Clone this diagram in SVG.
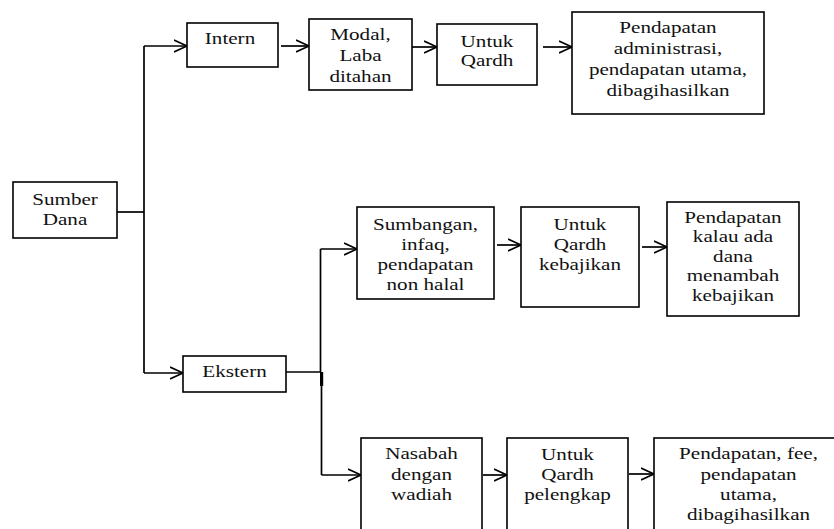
<svg xmlns="http://www.w3.org/2000/svg" width="834" height="529" viewBox="0 0 834 529">
<style>
.box{fill:#fff;stroke:#000;stroke-width:1.6}
.lbl{font-family:"Liberation Serif","Times New Roman",serif;font-size:16.5px;fill:#111;text-anchor:middle}
.ln{fill:none;stroke:#000;stroke-width:1.7}
</style>
<defs>
<marker id="arr" markerUnits="userSpaceOnUse" markerWidth="16" markerHeight="14" refX="13" refY="6" orient="auto" viewBox="0 0 16 12">
<path d="M0,0 L13,6 L0,12" fill="none" stroke="#000" stroke-width="1.6"/>
</marker>
</defs>
<rect width="834" height="529" fill="#fff"/>
<g id="connectors">
<path class="ln" d="M117,212 H144"/>
<path class="ln" d="M144,46 V373"/>
<path class="ln" d="M144,46 H187" marker-end="url(#arr)"/>
<path class="ln" d="M281,46 H309" marker-end="url(#arr)"/>
<path class="ln" d="M412,47 H437" marker-end="url(#arr)"/>
<path class="ln" d="M543,47 H572" marker-end="url(#arr)"/>
<path class="ln" d="M144,373 H183" marker-end="url(#arr)"/>
<path class="ln" d="M286,372 H321"/>
<path class="ln" d="M320.5,249 V372"/>
<path class="ln" d="M321.5,372 V475"/>
<rect x="320" y="372" width="3.2" height="14" fill="#000"/>
<path class="ln" d="M320.5,249 H357" marker-end="url(#arr)"/>
<path class="ln" d="M321.5,475 H361" marker-end="url(#arr)"/>
<path class="ln" d="M497,245 H521" marker-end="url(#arr)"/>
<path class="ln" d="M642,247 H667" marker-end="url(#arr)"/>
<path class="ln" d="M483,475 H507" marker-end="url(#arr)"/>
<path class="ln" d="M629,474 H654" marker-end="url(#arr)"/>
</g>
<g id="sumber-dana">
<rect class="box" x="13" y="182" width="104" height="56"/>
<text class="lbl" transform="translate(65,0) scale(1.28,1)"><tspan x="0" y="205">Sumber</tspan><tspan x="0" y="225">Dana</tspan></text>
</g>
<g id="intern">
<rect class="box" x="187" y="23" width="91" height="44"/>
<text class="lbl" transform="translate(230,0) scale(1.28,1)"><tspan x="0" y="44">Intern</tspan></text>
</g>
<g id="modal">
<rect class="box" x="309" y="19" width="103" height="71"/>
<text class="lbl" transform="translate(360.5,0) scale(1.28,1)"><tspan x="0" y="40">Modal,</tspan><tspan x="0" y="61">Laba</tspan><tspan x="0" y="82">ditahan</tspan></text>
</g>
<g id="untuk-qardh">
<rect class="box" x="437" y="24" width="100" height="61"/>
<text class="lbl" transform="translate(487,0) scale(1.28,1)"><tspan x="0" y="47">Untuk</tspan><tspan x="0" y="66">Qardh</tspan></text>
</g>
<g id="pendapatan-admin">
<rect class="box" x="572" y="12" width="192" height="102"/>
<text class="lbl" transform="translate(668,0) scale(1.28,1)"><tspan x="0" y="33">Pendapatan</tspan><tspan x="0" y="54">administrasi,</tspan><tspan x="0" y="75">pendapatan utama,</tspan><tspan x="0" y="96">dibagihasilkan</tspan></text>
</g>
<g id="ekstern">
<rect class="box" x="183" y="356" width="103" height="36"/>
<text class="lbl" transform="translate(234.5,0) scale(1.28,1)"><tspan x="0" y="377">Ekstern</tspan></text>
</g>
<g id="sumbangan">
<rect class="box" x="357" y="207" width="137" height="92"/>
<text class="lbl" transform="translate(425.5,0) scale(1.28,1)"><tspan x="0" y="230">Sumbangan,</tspan><tspan x="0" y="250">infaq,</tspan><tspan x="0" y="270">pendapatan</tspan><tspan x="0" y="290">non halal</tspan></text>
</g>
<g id="untuk-qardh-kebajikan">
<rect class="box" x="521" y="207" width="118" height="100"/>
<text class="lbl" transform="translate(580,0) scale(1.28,1)"><tspan x="0" y="230">Untuk</tspan><tspan x="0" y="250">Qardh</tspan><tspan x="0" y="270">kebajikan</tspan></text>
</g>
<g id="pendapatan-kebajikan">
<rect class="box" x="667" y="202" width="132" height="114"/>
<text class="lbl" transform="translate(733,0) scale(1.28,1)"><tspan x="0" y="223">Pendapatan</tspan><tspan x="0" y="242.5">kalau ada</tspan><tspan x="0" y="262">dana</tspan><tspan x="0" y="281.5">menambah</tspan><tspan x="0" y="301">kebajikan</tspan></text>
</g>
<g id="nasabah">
<rect class="box" x="361" y="438" width="121" height="100"/>
<text class="lbl" transform="translate(421.5,0) scale(1.28,1)"><tspan x="0" y="459">Nasabah</tspan><tspan x="0" y="480">dengan</tspan><tspan x="0" y="500">wadiah</tspan></text>
</g>
<g id="untuk-qardh-pelengkap">
<rect class="box" x="507" y="438" width="121" height="100"/>
<text class="lbl" transform="translate(567.5,0) scale(1.28,1)"><tspan x="0" y="460">Untuk</tspan><tspan x="0" y="480">Qardh</tspan><tspan x="0" y="500">pelengkap</tspan></text>
</g>
<g id="pendapatan-fee">
<rect class="box" x="654" y="438" width="190" height="100"/>
<text class="lbl" transform="translate(748.5,0) scale(1.28,1)"><tspan x="0" y="459">Pendapatan, fee,</tspan><tspan x="0" y="480">pendapatan</tspan><tspan x="0" y="500">utama,</tspan><tspan x="0" y="520">dibagihasilkan</tspan></text>
</g>
</svg>
